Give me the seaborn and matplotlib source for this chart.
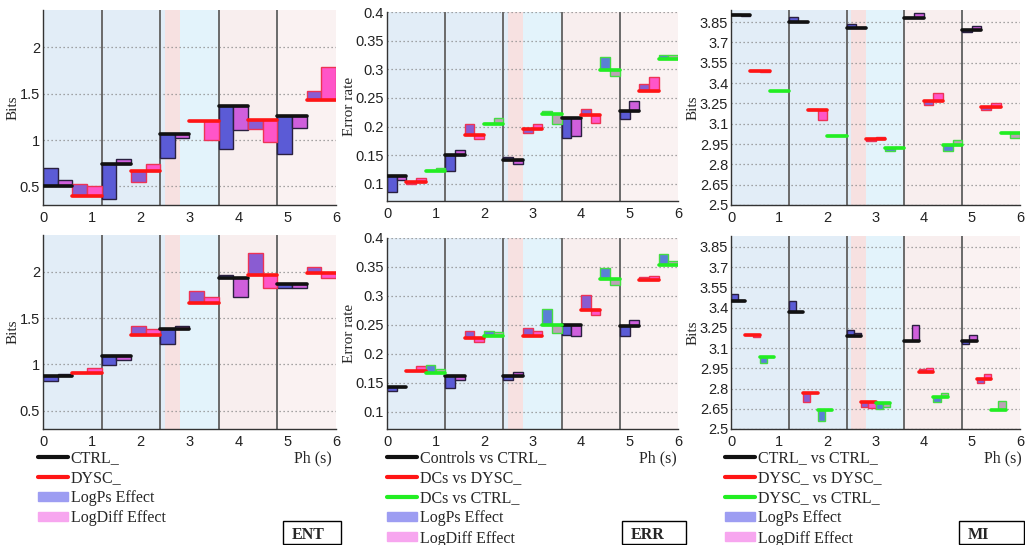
import numpy as np
import pandas as pd
import matplotlib
matplotlib.use("Agg")
import matplotlib.pyplot as plt
from matplotlib.lines import Line2D
from matplotlib.patches import Patch, Rectangle
from matplotlib.ticker import FormatStrFormatter
import seaborn as sns

sns.set_style("white")
plt.rcParams['font.family'] = ['Liberation Sans', 'DejaVu Sans']

# ---- data (level of each group per 1.2 s segment, and the two effects) ----
SEG_STARTS = np.array([0.0, 1.2, 2.4, 3.6, 4.8])

# ENT, top row
ent_top_ctrl_level = [0.50, 0.74, 1.06, 1.37, 1.26]
ent_top_ctrl_logps = [0.20, -0.37, -0.25, -0.47, -0.41]
ent_top_ctrl_logdiff = [0.07, 0.05, -0.04, -0.26, -0.13]
ent_top_dysc_level = [0.40, 0.67, 1.20, 1.22, 1.43]
ent_top_dysc_logps = [0.13, -0.12, 0.0, -0.10, 0.10]
ent_top_dysc_logdiff = [0.10, 0.07, -0.20, -0.24, 0.36]

# ENT, bottom row
ent_bot_ctrl_level = [0.87, 1.09, 1.38, 1.93, 1.87]
ent_bot_ctrl_logps = [-0.05, -0.10, -0.16, 0.04, -0.04]
ent_bot_ctrl_logdiff = [0.03, -0.04, 0.04, -0.20, -0.04]
ent_bot_dysc_level = [0.91, 1.32, 1.66, 1.97, 1.99]
ent_bot_dysc_logps = [0.01, 0.09, 0.13, 0.23, 0.06]
ent_bot_dysc_logdiff = [0.05, 0.06, 0.07, -0.14, -0.06]

# ERR, top row
err_top_ctrl_level = [0.113, 0.150, 0.141, 0.215, 0.227]
err_top_ctrl_logps = [-0.028, -0.027, 0.006, -0.035, -0.014]
err_top_ctrl_logdiff = [-0.006, 0.009, -0.007, -0.032, 0.018]
err_top_dysc_level = [0.104, 0.185, 0.196, 0.220, 0.262]
err_top_dysc_logps = [-0.004, 0.020, -0.008, 0.010, 0.013]
err_top_dysc_logdiff = [0.006, -0.007, 0.008, -0.013, 0.024]
err_top_dc_level = [0.122, 0.205, 0.222, 0.299, 0.318]
err_top_dc_logps = [0.002, 0.002, 0.006, 0.022, 0.007]
err_top_dc_logdiff = [0.006, 0.010, -0.017, -0.011, 0.007]

# ERR, bottom row
err_bot_ctrl_level = [0.143, 0.162, 0.161, 0.250, 0.248]
err_bot_ctrl_logps = [-0.008, -0.022, -0.006, -0.018, -0.018]
err_bot_ctrl_logdiff = [0.0, -0.007, 0.007, -0.020, 0.010]
err_bot_dysc_level = [0.170, 0.228, 0.230, 0.275, 0.328]
err_bot_dysc_logps = [0.0, 0.012, 0.015, 0.027, 0.004]
err_bot_dysc_logdiff = [0.008, -0.008, 0.010, -0.008, 0.007]
err_bot_dc_level = [0.167, 0.230, 0.250, 0.330, 0.353]
err_bot_dc_logps = [0.014, 0.010, 0.028, 0.019, 0.020]
err_bot_dc_logdiff = [0.006, 0.008, -0.015, -0.012, 0.007]

# MI, top row
mi_top_ctrl_level = [3.90, 3.85, 3.81, 3.88, 3.79]
mi_top_ctrl_logps = [0.01, 0.04, 0.025, 0.005, -0.01]
mi_top_ctrl_logdiff = [-0.005, 0.005, 0.005, 0.035, 0.03]
mi_top_dysc_level = [3.49, 3.20, 2.99, 3.27, 3.22]
mi_top_dysc_logps = [0.01, 0.01, -0.02, -0.035, -0.015]
mi_top_dysc_logdiff = [-0.005, -0.07, 0.01, 0.055, 0.035]
mi_top_dc_level = [3.34, 3.01, 2.92, 2.94, 3.03]
mi_top_dc_logps = [0.005, 0.005, -0.02, -0.04, 0.01]
mi_top_dc_logdiff = [0.005, 0.005, 0.005, 0.04, -0.035]

# MI, bottom row
mi_bot_ctrl_level = [3.45, 3.37, 3.19, 3.15, 3.15]
mi_bot_ctrl_logps = [0.05, 0.08, 0.04, 0.005, -0.02]
mi_bot_ctrl_logdiff = [0.005, 0.0, 0.025, 0.12, 0.05]
mi_bot_dysc_level = [3.20, 2.77, 2.70, 2.92, 2.87]
mi_bot_dysc_logps = [0.0, -0.07, -0.04, 0.025, -0.03]
mi_bot_dysc_logdiff = [-0.02, 0.0, -0.045, 0.035, 0.04]
mi_bot_dc_level = [3.03, 2.64, 2.69, 2.74, 2.64]
mi_bot_dc_logps = [-0.04, -0.08, -0.04, -0.04, 0.0]
mi_bot_dc_logdiff = [0.0, 0.0, -0.03, 0.025, 0.07]

ent_yticks = [0.5, 1, 1.5, 2]
err_yticks = [0.1, 0.15, 0.2, 0.25, 0.3, 0.35, 0.4]
mi_yticks = [2.5, 2.65, 2.8, 2.95, 3.1, 3.25, 3.4, 3.55, 3.7, 3.85]

ent_labels = ["CTRL_", "DYSC_", "LogPs Effect", "LogDiff Effect"]
err_labels = ["Controls vs CTRL_", "DCs vs DYSC_", "DCs vs CTRL_", "LogPs Effect", "LogDiff Effect"]
mi_labels = ["CTRL_ vs CTRL_", "DYSC_ vs DYSC_", "DYSC_ vs CTRL_", "LogPs Effect", "LogDiff Effect"]

# background bands (start, end, colour)
BANDS = [(0.0, 2.5, "#e2edf7"), (2.5, 2.8, "#f7e1e1"), (2.8, 3.6, "#e3f3fb"),
         (3.6, 4.8, "#f8eeee"), (4.8, 6.0, "#faf2f2")]
SEPARATORS = [1.2, 2.4, 3.6, 4.8]

LINE_COL = {"ctrl": "#111111", "dysc": "#ff1515", "dc": "#22ee22"}
PS_FILL = {"ctrl": "#5b5bd6", "dysc": "#8a5cd2", "dc": "#5a80d6"}
DF_FILL = {"ctrl": "#cf5fdc", "dysc": "#ff55c8", "dc": "#bca2b6"}
EDGE = {"ctrl": "#2a2040", "dysc": "#ee3355", "dc": "#44dd44"}

SERIF = ['Liberation Serif', 'DejaVu Serif']

W, H = 1025, 545
fig = plt.figure(figsize=(W / 100, H / 100), dpi=100)


def px_axes(l, t, r, b):
    return fig.add_axes([l / W, 1 - b / H, (r - l) / W, (b - t) / H])


def draw_panel(ax, groups, gw, ylim, yticks, ylabel):
    for x0, x1, c in BANDS:
        ax.axvspan(x0, x1, color=c, lw=0, zorder=0)
    for y in yticks:
        ax.axhline(y, color="#8a8a8a", lw=0.9, ls=(0, (1, 2.2)), zorder=1)
    for x in SEPARATORS:
        ax.axvline(x, color="#6a6a6a", lw=1.4, zorder=1)

    rows = []
    for gi, (name, lev, ps, dfx) in enumerate(groups):
        starts = SEG_STARTS + gi * gw
        lev = np.array(lev)
        ax.bar(starts, ps, bottom=lev, width=gw / 2, align="edge",
               color=PS_FILL[name], edgecolor=EDGE[name], lw=1.0, zorder=2)
        ax.bar(starts + gw / 2, dfx, bottom=lev, width=gw / 2, align="edge",
               color=DF_FILL[name], edgecolor=EDGE[name], lw=1.0, zorder=2)
        for s, x0 in enumerate(starts):
            rows.append((x0, lev[s], name, f"{name}{s}"))
            rows.append((x0 + gw, lev[s], name, f"{name}{s}"))
    lines = pd.DataFrame(rows, columns=["x", "y", "grp", "seg"])
    sns.lineplot(data=lines, x="x", y="y", hue="grp", units="seg", estimator=None,
                 palette=LINE_COL, lw=2.6, legend=False, sort=False, ax=ax, zorder=3)

    ax.set_xlim(0, 6)
    ax.set_ylim(*ylim)
    ax.set_xticks(range(7))
    ax.set_yticks(yticks)
    ax.yaxis.set_major_formatter(FormatStrFormatter("%g"))
    ax.tick_params(direction="in", length=3, labelsize=10.5, colors="#222222", pad=2)
    ax.tick_params(axis="x", pad=4)
    ax.set_xlabel("")
    ax.set_ylabel(ylabel, family=SERIF, fontsize=11, labelpad=0)
    for side in ["top", "right"]:
        ax.spines[side].set_visible(False)
    for side in ["left", "bottom"]:
        ax.spines[side].set_color("#333333")
        ax.spines[side].set_linewidth(1.0)


ent_top = [("ctrl", ent_top_ctrl_level, ent_top_ctrl_logps, ent_top_ctrl_logdiff),
           ("dysc", ent_top_dysc_level, ent_top_dysc_logps, ent_top_dysc_logdiff)]
ent_bot = [("ctrl", ent_bot_ctrl_level, ent_bot_ctrl_logps, ent_bot_ctrl_logdiff),
           ("dysc", ent_bot_dysc_level, ent_bot_dysc_logps, ent_bot_dysc_logdiff)]
err_top = [("ctrl", err_top_ctrl_level, err_top_ctrl_logps, err_top_ctrl_logdiff),
           ("dysc", err_top_dysc_level, err_top_dysc_logps, err_top_dysc_logdiff),
           ("dc", err_top_dc_level, err_top_dc_logps, err_top_dc_logdiff)]
err_bot = [("ctrl", err_bot_ctrl_level, err_bot_ctrl_logps, err_bot_ctrl_logdiff),
           ("dysc", err_bot_dysc_level, err_bot_dysc_logps, err_bot_dysc_logdiff),
           ("dc", err_bot_dc_level, err_bot_dc_logps, err_bot_dc_logdiff)]
mi_top = [("ctrl", mi_top_ctrl_level, mi_top_ctrl_logps, mi_top_ctrl_logdiff),
          ("dysc", mi_top_dysc_level, mi_top_dysc_logps, mi_top_dysc_logdiff),
          ("dc", mi_top_dc_level, mi_top_dc_logps, mi_top_dc_logdiff)]
mi_bot = [("ctrl", mi_bot_ctrl_level, mi_bot_ctrl_logps, mi_bot_ctrl_logdiff),
          ("dysc", mi_bot_dysc_level, mi_bot_dysc_logps, mi_bot_dysc_logdiff),
          ("dc", mi_bot_dc_level, mi_bot_dc_logps, mi_bot_dc_logdiff)]

draw_panel(px_axes(43, 10, 336, 205), ent_top, 0.6, (0.3, 2.4), ent_yticks, "Bits")
draw_panel(px_axes(43, 235, 336, 429), ent_bot, 0.6, (0.3, 2.4), ent_yticks, "Bits")
draw_panel(px_axes(387, 12, 678, 201), err_top, 0.4, (0.07, 0.4), err_yticks, "Error rate")
draw_panel(px_axes(387, 238, 678, 429), err_bot, 0.4, (0.07, 0.4), err_yticks, "Error rate")
draw_panel(px_axes(731, 10, 1020, 205), mi_top, 0.4, (2.5, 3.94), mi_yticks, "Bits")
draw_panel(px_axes(731, 236, 1020, 429), mi_bot, 0.3, (2.5, 3.93), mi_yticks, "Bits")

# ---- legends, axis-unit text and panel tags ----
def handles_for(labels):
    cols = [LINE_COL["ctrl"], LINE_COL["dysc"], LINE_COL["dc"]]
    n_lines = len(labels) - 2
    hs = [Line2D([], [], color=cols[i], lw=3) for i in range(n_lines)]
    hs += [Patch(color="#9d9df2"), Patch(color="#f7a6ef")]
    return hs


for x, labels in [(38, ent_labels), (387, err_labels), (725, mi_labels)]:
    fig.legend(handles_for(labels), labels, loc="upper left",
               bbox_to_anchor=(x / W, 1 - 450 / H), frameon=False,
               borderpad=0, borderaxespad=0, handlelength=1.9, handleheight=0.5,
               handletextpad=0.15, labelspacing=0.26,
               prop={"family": SERIF, "size": 11.5})

for x in [313, 658, 1003]:
    fig.text(x / W, 1 - 458 / H, "Ph (s)", family=SERIF, fontsize=11.5,
             ha="center", va="center")

for (x0, x1), tag in zip([(283, 341), (622, 686), (959, 1024)], ["ENT", "ERR", "MI"]):
    fig.patches.append(Rectangle((x0 / W, 0.002), (x1 - x0) / W, (H - 522) / H,
                                 transform=fig.transFigure, fc="white",
                                 ec="black", lw=1.0))
    fig.text((x0 + 9) / W, 1 - 535 / H, tag, family=SERIF, fontsize=11.5,
             weight="bold", ha="left", va="center")

fig.savefig("out.png", dpi=100)
